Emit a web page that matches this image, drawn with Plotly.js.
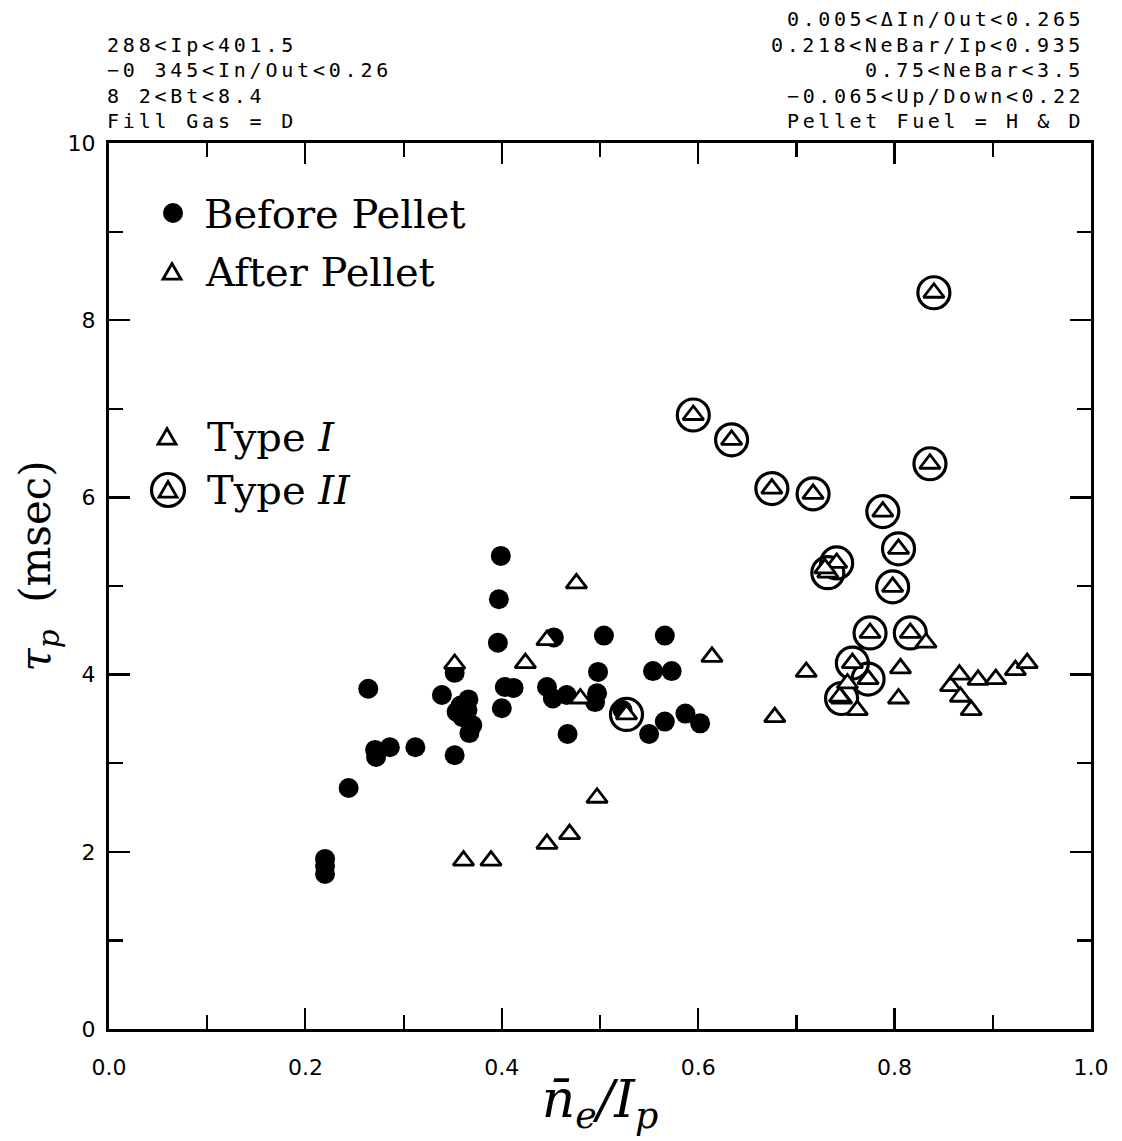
<!DOCTYPE html>
<html>
<head>
<meta charset="utf-8">
<script src="https://cdn.plot.ly/plotly-3.0.1.min.js"></script>
<style>
  html, body { margin: 0; padding: 0; background: #fff; }
  #chart { width: 1122px; height: 1141px; }
</style>
</head>
<body>
<div id="chart"></div>
<script>
// ---- Data ----
const beforeX = [0.22, 0.22, 0.22, 0.244, 0.264, 0.271, 0.272, 0.286, 0.312,
  0.339, 0.352, 0.366, 0.354, 0.36, 0.37, 0.367, 0.352, 0.358, 0.365,
  0.399, 0.397, 0.396, 0.453, 0.504, 0.566,
  0.403, 0.412, 0.40, 0.446, 0.452, 0.466, 0.467,
  0.498, 0.497, 0.495, 0.523, 0.55, 0.566, 0.587, 0.602, 0.554, 0.573];
const beforeY = [1.92, 1.84, 1.75, 2.72, 3.84, 3.15, 3.07, 3.18, 3.18,
  3.77, 4.02, 3.72, 3.58, 3.52, 3.43, 3.34, 3.09, 3.65, 3.6,
  5.34, 4.85, 4.36, 4.42, 4.44, 4.44,
  3.86, 3.85, 3.62, 3.86, 3.73, 3.77, 3.33,
  4.03, 3.79, 3.69, 3.6, 3.33, 3.47, 3.56, 3.45, 4.04, 4.04];

const typeIX = [0.352, 0.361, 0.389, 0.424, 0.446, 0.446, 0.469, 0.476, 0.48, 0.497,
  0.614, 0.678, 0.71, 0.729, 0.744, 0.752, 0.762, 0.806, 0.804, 0.832,
  0.857, 0.866, 0.867, 0.878, 0.885, 0.903, 0.923, 0.935];
const typeIY = [4.12, 1.9, 1.9, 4.13, 4.39, 2.09, 2.2, 5.03, 3.73, 2.61,
  4.2, 3.52, 4.03, 5.2, 3.75, 3.9, 3.6, 4.07, 3.73, 4.36,
  3.87, 4.0, 3.75, 3.6, 3.94, 3.95, 4.05, 4.13];

const typeIIX = [0.527, 0.595, 0.634, 0.675, 0.717, 0.84, 0.836, 0.788, 0.804, 0.798,
  0.741, 0.732, 0.775, 0.816, 0.757, 0.773, 0.746];
const typeIIY = [3.55, 6.93, 6.65, 6.1, 6.04, 8.31, 6.38, 5.84, 5.42, 4.99,
  5.26, 5.15, 4.47, 4.47, 4.13, 3.95, 3.73];

const xTickVals = [0, 0.2, 0.4, 0.6, 0.8, 1.0];
const xTickText = ['0.0', '0.2', '0.4', '0.6', '0.8', '1.0'];
const yTickVals = [0, 2, 4, 6, 8, 10];
const yTickText = ['0', '2', '4', '6', '8', '10'];

const infoLeft = ['288&lt;Ip&lt;401.5', '−0 345&lt;In/Out&lt;0.26', '8 2&lt;Bt&lt;8.4', 'Fill Gas = D'];
const infoRight = ['0.005&lt;ΔIn/Out&lt;0.265', '0.218&lt;NeBar/Ip&lt;0.935', '0.75&lt;NeBar&lt;3.5',
  '−0.065&lt;Up/Down&lt;0.22', 'Pellet Fuel = H &amp; D'];
const legendLabels = ['Before Pellet', 'After Pellet', 'Type <i>I</i>', 'Type <i>II</i>'];

// ---- Geometry helpers (pixel -> paper) ----
const W = 1122, H = 1141;
const mL = 109, mR = W - 1091, mT = 143, mB = H - 1029;
const pw = W - mL - mR, ph = H - mT - mB;
const px = v => (v - mL) / pw;
const py = v => (H - mB - v) / ph;

const traces = [
  { x: beforeX, y: beforeY, type: 'scatter', mode: 'markers', name: 'Before Pellet',
    marker: { symbol: 'circle', size: 20, color: '#000', line: { width: 0 } } },
  { x: typeIIX, y: typeIIY, type: 'scatter', mode: 'markers', name: 'Type II ring',
    marker: { symbol: 'circle-open', size: 32, color: '#000', line: { width: 3.2, color: '#000' } } },
  { x: typeIIX, y: typeIIY, type: 'scatter', mode: 'markers', name: 'Type II',
    marker: { symbol: 'triangle-up', size: 18, color: '#fff', line: { width: 2.8, color: '#000' } } },
  { x: typeIX, y: typeIY, type: 'scatter', mode: 'markers', name: 'Type I',
    marker: { symbol: 'triangle-up', size: 18, color: '#fff', line: { width: 2.8, color: '#000' } } }
];

const tickFont = { family: 'DejaVu Sans, sans-serif', size: 22, color: '#000' };
const infoFont = { family: 'DejaVu Sans Mono, monospace', size: 20, color: '#000' };
const legFont = { family: 'DejaVu Serif, serif', size: 40, color: '#000' };

const annotations = [];
const leftRows = [45, 70, 96, 121];
infoLeft.forEach((t, i) => annotations.push({
  xref: 'paper', yref: 'paper', x: px(105), y: py(leftRows[i]), xanchor: 'left', yanchor: 'middle',
  text: '<span style="letter-spacing:3.8px">' + t + '</span>', showarrow: false, font: infoFont
}));
const rightRows = [19, 45, 70, 96, 121];
infoRight.forEach((t, i) => annotations.push({
  xref: 'paper', yref: 'paper', x: px(1086), y: py(rightRows[i]), xanchor: 'right', yanchor: 'middle',
  text: '<span style="letter-spacing:3.6px">' + t + '</span>', showarrow: false, font: infoFont
}));
const legRows = [214, 272, 437, 490];
const legX = [202, 203, 205, 205];
legendLabels.forEach((t, i) => annotations.push({
  xref: 'paper', yref: 'paper', x: px(legX[i]), y: py(legRows[i]), xanchor: 'left', yanchor: 'middle',
  text: t, showarrow: false, font: legFont
}));

function triPath(r) {
  const h = r * Math.sqrt(3);
  return `M${-r},${-h / 3} L${r},${-h / 3} L0,${2 * h / 3} Z`;
}
const shapes = [
  { type: 'circle', xref: 'paper', yref: 'paper', xsizemode: 'pixel', ysizemode: 'pixel',
    xanchor: px(173), yanchor: py(213), x0: -10, x1: 10, y0: -10, y1: 10,
    fillcolor: '#000', line: { width: 0 } },
  { type: 'path', xref: 'paper', yref: 'paper', xsizemode: 'pixel', ysizemode: 'pixel',
    xanchor: px(172), yanchor: py(274), path: triPath(9), fillcolor: '#fff', line: { width: 2.8, color: '#000' } },
  { type: 'path', xref: 'paper', yref: 'paper', xsizemode: 'pixel', ysizemode: 'pixel',
    xanchor: px(167), yanchor: py(439), path: triPath(9), fillcolor: '#fff', line: { width: 2.8, color: '#000' } },
  { type: 'circle', xref: 'paper', yref: 'paper', xsizemode: 'pixel', ysizemode: 'pixel',
    xanchor: px(168), yanchor: py(490), x0: -16.5, x1: 16.5, y0: -16.5, y1: 16.5,
    line: { width: 3.2, color: '#000' } },
  { type: 'path', xref: 'paper', yref: 'paper', xsizemode: 'pixel', ysizemode: 'pixel',
    xanchor: px(168), yanchor: py(492), path: triPath(9), fillcolor: '#fff', line: { width: 2.8, color: '#000' } }
];

const layout = {
  width: W, height: H,
  margin: { l: mL, r: mR, t: mT, b: mB, pad: 0 },
  paper_bgcolor: '#fff', plot_bgcolor: '#fff',
  showlegend: false,
  font: { family: 'DejaVu Sans, sans-serif', color: '#000' },
  xaxis: {
    range: [0, 1], autorange: false, tickmode: 'array', tickvals: xTickVals, ticktext: xTickText,
    ticks: 'inside', ticklen: 21, tickwidth: 2.2, tickcolor: '#000',
    minor: { ticks: 'inside', dtick: 0.1, tick0: 0, ticklen: 14, tickwidth: 2.2, tickcolor: '#000', showgrid: false },
    showline: true, linewidth: 3, linecolor: '#000', mirror: 'ticks',
    showgrid: false, zeroline: false, tickfont: tickFont, ticklabelstandoff: 17,
    title: { text: '<i>n̄<sub>e</sub>/I<sub>p</sub></i>', font: { family: 'DejaVu Serif, serif', size: 52, color: '#000' }, standoff: 2 }
  },
  yaxis: {
    range: [0, 10], autorange: false, tickmode: 'array', tickvals: yTickVals, ticktext: yTickText,
    ticks: 'inside', ticklen: 21, tickwidth: 2.2, tickcolor: '#000',
    minor: { ticks: 'inside', dtick: 1, tick0: 0, ticklen: 14, tickwidth: 2.2, tickcolor: '#000', showgrid: false },
    showline: true, linewidth: 3, linecolor: '#000', mirror: 'ticks',
    showgrid: false, zeroline: false, tickfont: tickFont, ticklabelstandoff: 6,
    title: { text: '&nbsp;&nbsp;&nbsp;<i>τ<sub>p</sub></i>  (msec)', font: { family: 'DejaVu Serif, serif', size: 42, color: '#000' }, standoff: 4 }
  },
  annotations: annotations,
  shapes: shapes
};

Plotly.newPlot('chart', traces, layout, { staticPlot: true, displayModeBar: false });
</script>
</body>
</html>
